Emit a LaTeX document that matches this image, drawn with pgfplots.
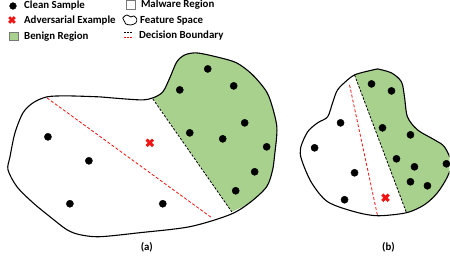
\documentclass[border=0pt]{standalone}
\usepackage{pgfplots}
\pgfplotsset{compat=1.18}
\usepackage{fontspec}
\setmainfont{Carlito}
\definecolor{benign}{RGB}{169,209,142}
\definecolor{advred}{RGB}{240,20,20}
\definecolor{boxgray}{RGB}{120,120,120}
\tikzset{lbl/.style={font=\bfseries\fontsize{10.9}{12}\selectfont, inner sep=0pt}}
\begin{document}
\begin{tikzpicture}
\begin{axis}[
  width=450bp, height=262bp, scale only axis,
  xmin=0, xmax=450, ymin=0, ymax=262, y dir=reverse,
  axis line style={draw=none}, xtick=\empty, ytick=\empty,
  clip mode=individual,
]
% ---------- blob (a) ----------
\addplot[fill=benign, draw=none, smooth] coordinates {
 (153,98)(163,92)(170,78)(177,62)(185,55)(197,53)(217,57)(237,63)(253,75)(267,92)
 (273,108)(277,125)(277,137)(275,155)(273,170)(267,187)(250,203)(232,212)};
\addplot[black, line width=0.8bp, dash pattern=on 2.5bp off 1.5bp] coordinates {(153,99)(232,212)};
\addplot[advred, line width=0.8bp, dash pattern=on 3bp off 2bp] coordinates {(47,98)(212,218)};
\addplot[black, line width=1.1bp, smooth] coordinates {
 (100,97)(140,100)(153,98)(163,92)(170,78)(177,62)(185,55)(197,53)(217,57)(237,63)
 (253,75)(267,92)(273,108)(277,125)(277,137)(275,155)(273,170)(267,187)(250,203)(230,215)
 (190,227)(140,233)(100,237)(80,235)(67,230)(50,217)(33,203)(17,187)(8,170)(10,157)
 (15,133)(23,113)(33,103)(47,97)(67,96)(100,97)};
\addplot[only marks, mark=*, mark size=3.6, black] coordinates {
 (48,137)(89,161)(70,204)(163,204)(208,69)(180,90)(234,86)(245,123)(190,133)
 (223,139)(267,147)(255,172)(236,191)};
\addplot[only marks, mark=x, mark size=4.6, advred, line width=3bp] coordinates {(150,143)};
% ---------- blob (b) ----------
\addplot[fill=benign, draw=none, smooth] coordinates {
 (355,75)(365,72)(378,69)(392,73)(402,82)(405,97)(408,117)(418,130)(435,140)(445,147)
 (452,163)(448,177)(438,193)(425,205)(407,213)};
\addplot[black, line width=0.8bp, dash pattern=on 2.5bp off 1.5bp] coordinates {(355,75)(407,213)};
\addplot[advred, line width=0.8bp, dash pattern=on 3bp off 2bp] coordinates {(350,85)(378,216)};
\addplot[black, line width=1.1bp, smooth] coordinates {
 (378,69)(392,73)(402,82)(405,97)(408,117)(418,130)(435,140)(445,147)(452,163)(448,177)
 (438,193)(425,205)(407,213)(378,216)(355,212)(328,202)(312,183)(302,160)(301,148)
 (308,132)(318,123)(328,117)(333,103)(338,90)(348,80)(355,75)(365,72)(378,69)};
\addplot[only marks, mark=*, mark size=3.6, black] coordinates {
 (372,84)(392,91)(341,123)(383,128)(411,135)(315,148)(397,159)(415,167)(447,164)
 (355,173)(411,182)(428,186)(345,200)};
\addplot[only marks, mark=x, mark size=4.6, advred, line width=3bp] coordinates {(386,198)};
\node[lbl] at (axis cs:147,248) {(a)};
\node[lbl] at (axis cs:389,248) {(b)};
% ---------- legend ----------
\addplot[only marks, mark=*, mark size=3.4, black] coordinates {(13,6)};
\addplot[only marks, mark=x, mark size=4, advred, line width=2.8bp] coordinates {(12,20)};
\addplot[only marks, mark=square*, mark size=4.3, mark options={fill=benign, draw=boxgray, line width=0.5bp}] coordinates {(14,36.5)};
\addplot[only marks, mark=square, mark size=4.5, mark options={draw=boxgray, line width=0.7bp}] coordinates {(131,5)};
\addplot[black, line width=0.8bp, smooth] coordinates {
 (125,22)(123,18)(127,15)(131,17)(134,16)(137,19)(136,23)(131,25)(126,24)(125,22)};
\addplot[black, line width=0.8bp, dash pattern=on 2bp off 1bp] coordinates {(124,32.5)(133,32.5)};
\addplot[advred, line width=0.9bp, dash pattern=on 2bp off 1bp] coordinates {(124,37)(133,37)};
\node[lbl, anchor=west] at (axis cs:24,6) {Clean Sample};
\node[lbl, anchor=west] at (axis cs:24,20.5) {Adversarial Example};
\node[lbl, anchor=west] at (axis cs:24,37) {Benign Region};
\node[lbl, anchor=west] at (axis cs:141,5) {Malware Region};
\node[lbl, anchor=west] at (axis cs:140,21) {Feature Space};
\node[lbl, anchor=west] at (axis cs:139,35.5) {Decision Boundary};
\end{axis}
\end{tikzpicture}
\end{document}
